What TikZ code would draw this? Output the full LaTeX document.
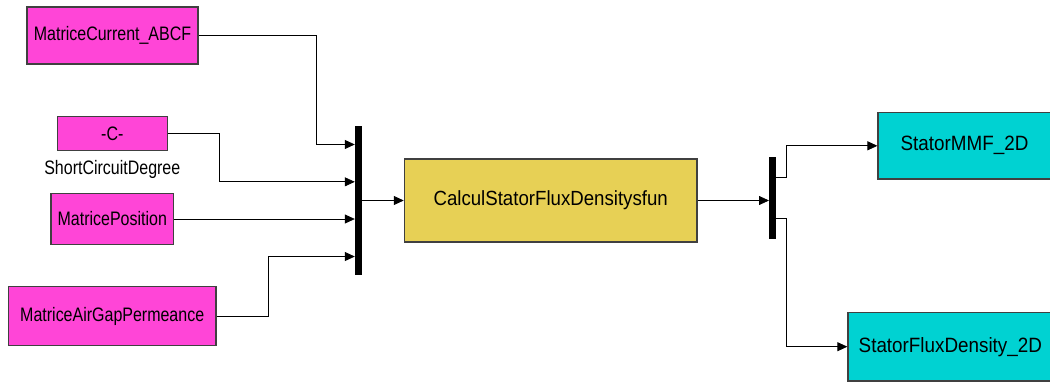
\documentclass[tikz,border=0pt]{standalone}
\usepackage{fontspec}
\setmainfont{Liberation Sans}
\usetikzlibrary{arrows.meta,positioning,calc}

\definecolor{srcpink}{HTML}{FF45D7}
\definecolor{funyellow}{HTML}{E7D055}
\definecolor{sinkcyan}{HTML}{00D2D2}

% condensed block text
\newcommand{\sqtext}[2]{\scalebox{#1}[1]{#2}}

\begin{document}
\begin{tikzpicture}[
    x=1pt, y=-1pt,
    blk/.style={draw=black!75, line width=1.2pt, inner sep=0pt, align=center},
    src/.style={blk, fill=srcpink, font=\fontsize{19.5}{21}\selectfont},
    sink/.style={blk, fill=sinkcyan, font=\fontsize{20.7}{22}\selectfont},
    bar/.style={fill=black, draw=none, minimum width=7pt, inner sep=0pt},
    link/.style={-{Triangle[length=10pt,width=9pt]}, line width=0.8pt}
]
\useasboundingbox (0,0) rectangle (1050,381);

% sources
\node[src, minimum width=171pt, minimum height=57pt] (cur) at (112.5,35.5) {\sqtext{0.82}{MatriceCurrent\_ABCF}};
\node[src, minimum width=110pt, minimum height=34pt] (cst) at (112.3,133.7) {\sqtext{0.82}{-C-}};
\node[below=9pt of cst, inner sep=0pt, font=\fontsize{19.5}{21}\selectfont] (cstlbl) {\sqtext{0.82}{ShortCircuitDegree}};
\node[src, minimum width=122.7pt, minimum height=51pt] (pos) at (112.3,219) {\sqtext{0.82}{MatricePosition}};
\node[src, minimum width=207.7pt, minimum height=59pt] (agp) at (112.2,316.2) {\sqtext{0.82}{MatriceAirGapPermeance}};

% mux, function, demux
\node[bar, minimum height=149pt] (mux) at (358.5,200.5) {};
\node[blk, fill=funyellow, minimum width=292.7pt, minimum height=83pt,
      font=\fontsize{20.5}{22}\selectfont] (fun) at (550.7,200.5) {\sqtext{0.91}{CalculStatorFluxDensitysfun}};
\node[bar, minimum height=82pt] (dmx) at (772.7,197.5) {};

% sinks
\node[sink, minimum width=173pt, minimum height=66.3pt] (mmf) at (964.5,145.8) {\sqtext{0.91}{StatorMMF\_2D}};
\node[sink, minimum width=204.7pt, minimum height=68.7pt] (sfd) at (950.3,346.7) {\sqtext{0.91}{StatorFluxDensity\_2D}};

% ports
\coordinate (in1) at ($(mux.north west)!0.125!(mux.south west)$);
\coordinate (in2) at ($(mux.north west)!0.375!(mux.south west)$);
\coordinate (in4) at ($(mux.north west)!0.875!(mux.south west)$);
\coordinate (out1) at ($(dmx.north east)!0.25!(dmx.south east)$);
\coordinate (out2) at ($(dmx.north east)!0.75!(dmx.south east)$);

% signals
\draw[link] (cur.east) -| ($(in1)+(-38,0)$) -- (in1);
\draw[link] (cst.east) -| ($(in2)+(-135,0)$) -- (in2);
\draw[link] (pos.east) -- (pos.east -| mux.west);
\draw[link] (agp.east) -| ($(in4)+(-86,0)$) -- (in4);
\draw[link] (mux.east) -- (fun.west);
\draw[link] (fun.east) -- (fun.east -| dmx.west);
\draw[link] (out1) -- ++(10,0) |- (mmf.west);
\draw[link] (out2) -- ++(10,0) |- (sfd.west);
\end{tikzpicture}
\end{document}
